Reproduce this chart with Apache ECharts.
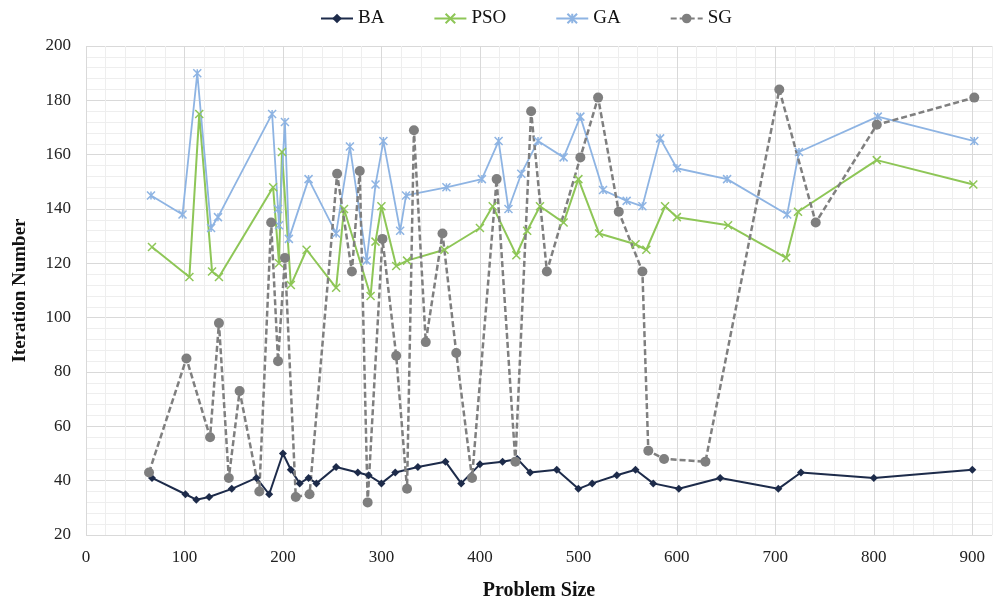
<!DOCTYPE html>
<html>
<head>
<meta charset="utf-8">
<script src="https://cdn.jsdelivr.net/npm/echarts@6/dist/echarts.min.js"></script>
<style>
html,body{margin:0;padding:0;background:#fff;}
#chart{width:993px;height:603px;}
</style>
</head>
<body>
<div id="chart"></div>
<script>
// ---- Data ----
const seriesNames = ['BA', 'PSO', 'GA', 'SG'];

const baX = [67,101,112,125,148,173,186,200,208,217,226,234,254,276,287,300,314,337,365,381,400,423,438,451,478,500,514,539,558,576,602,644,703,726,800,900];
const baY = [41,35,33,34,37,41,35,50,44,39,41,39,45,43,42,39,43,45,47,39,46,47,48,43,44,37,39,42,44,39,37,41,37,43,41,44];

const psoX = [67,105,115,128,135,190,196,199,208,224,254,262,289,294,300,315,326,364,400,413,437,448,461,485,500,521,558,569,588,600,652,711,723,803,901];
const psoY = [126,115,175,117,115,148,120,161,112,125,111,140,108,128,141,119,121,125,133,141,123,132,141,135,151,131,127,125,141,137,134,122,139,158,149];

const gaX = [66,98,113,127,134,189,195,196,202,206,226,254,268,285,294,302,319,325,366,402,419,429,442,459,485,502,525,549,565,583,600,651,712,724,804,902];
const gaY = [145,138,190,133,137,175,140,134,172,129,151,131,163,121,149,165,132,145,148,151,165,140,153,165,159,174,147,143,141,166,155,151,138,161,174,165];

const sgX = [64,102,126,135,145,156,176,188,195,202,213,227,255,270,278,286,301,315,326,333,345,362,376,392,417,436,452,468,502,520,541,565,571,587,629,704,741,803,902];
const sgY = [43,85,56,98,41,73,36,135,84,122,34,35,153,117,154,32,129,86,37,169,91,131,87,41,151,47,176,117,159,181,139,117,51,48,47,184,135,171,181];

const xTickLabels = [0,100,200,300,400,500,600,700,800,900];
const yTickLabels = [20,40,60,80,100,120,140,160,180,200];

function zip(xs, ys) { return xs.map((x, i) => [x, ys[i]]); }

const FONT = '"Liberation Serif","Times New Roman",serif';
const major = '#d9d9d9', minor = '#eeeeee';
const gridColors = [major, minor, minor, minor, minor];

const crossPath = 'path://M0,0L10,10M10,0L0,10';
const starPath = 'path://M0,0L10,10M10,0L0,10M5,0L5,10';

const chart = echarts.init(document.getElementById('chart'), null, {renderer: 'canvas'});
chart.setOption({
  backgroundColor: '#fff',
  animation: false,
  grid: {left: 86, right: 1, top: 46, bottom: 68, containLabel: false, outerBoundsMode: 'none'},
  legend: {
    top: 9, left: 320, padding: 0,
    itemWidth: 32, itemHeight: 12, itemGap: 49,
    textStyle: {fontFamily: FONT, fontSize: 19, color: '#111'},
    data: seriesNames
  },
  xAxis: {
    type: 'value', min: 0, max: 920, interval: 20,
    name: 'Problem Size', nameLocation: 'middle', nameGap: 46,
    nameTextStyle: {fontFamily: FONT, fontSize: 20, fontWeight: 'bold', color: '#111'},
    axisLine: {show: false}, axisTick: {show: false},
    axisLabel: {
      fontFamily: FONT, fontSize: 17, color: '#222', margin: 14,
      formatter: v => xTickLabels.indexOf(v) >= 0 ? String(v) : ''
    },
    splitLine: {show: true, lineStyle: {color: gridColors, width: 1}}
  },
  yAxis: {
    type: 'value', min: 20, max: 200, interval: 4,
    name: 'Iteration Number', nameLocation: 'middle', nameGap: 56,
    nameTextStyle: {fontFamily: FONT, fontSize: 19, fontWeight: 'bold', color: '#111'},
    axisLine: {show: false}, axisTick: {show: false},
    axisLabel: {
      fontFamily: FONT, fontSize: 17, color: '#222', margin: 15,
      formatter: v => yTickLabels.indexOf(v) >= 0 ? String(v) : ''
    },
    splitLine: {show: true, lineStyle: {color: gridColors, width: 1}}
  },
  series: [
    {
      name: 'BA', type: 'line', data: zip(baX, baY),
      symbol: 'diamond', symbolSize: 8,
      lineStyle: {color: '#1d2b4a', width: 2},
      itemStyle: {color: '#1d2b4a'}
    },
    {
      name: 'PSO', type: 'line', data: zip(psoX, psoY),
      symbol: crossPath, symbolSize: 8,
      lineStyle: {color: '#8ec657', width: 2},
      itemStyle: {color: '#8ec657', borderColor: '#8ec657', borderWidth: 1.5}
    },
    {
      name: 'GA', type: 'line', data: zip(gaX, gaY),
      symbol: starPath, symbolSize: 8,
      lineStyle: {color: '#8eb4e3', width: 1.8},
      itemStyle: {color: '#8eb4e3', borderColor: '#8eb4e3', borderWidth: 1.5}
    },
    {
      name: 'SG', type: 'line', data: zip(sgX, sgY),
      symbol: 'circle', symbolSize: 10,
      lineStyle: {color: '#7f7f7f', width: 2.5, type: [6, 3]},
      itemStyle: {color: '#7f7f7f'}
    }
  ]
});
</script>
</body>
</html>
